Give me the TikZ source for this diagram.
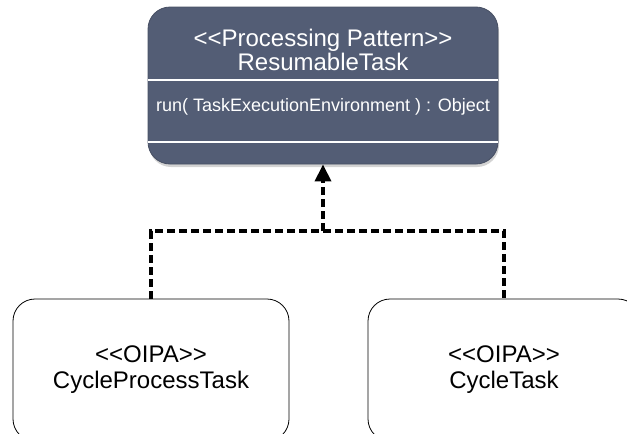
\documentclass[tikz,border=0pt]{standalone}
\usepackage{fontspec}
\newfontfamily\arial{Liberation Sans}
\usetikzlibrary{arrows.meta,shadows}
\definecolor{slate}{RGB}{83,93,117}
\begin{document}
\begin{tikzpicture}[x=1pt,y=-1pt,
  patternbox/.style={draw=slate!85!black, fill=slate, rounded corners=22pt,
    inner sep=0pt, line width=0.8pt,
    drop shadow={shadow xshift=1pt, shadow yshift=-3pt, opacity=0.35}},
  oipabox/.style={draw=black, fill=white, rounded corners=22pt, inner sep=0pt,
    line width=0.8pt, align=center, font=\arial\fontsize{24}{26}\selectfont},
  divider/.style={white, line width=1.2pt},
  dep/.style={black, line width=3.4pt, dash pattern=on 8pt off 4pt},
  titletext/.style={white, align=center, font=\arial\fontsize{24}{24.5}\selectfont},
  optext/.style={white, font=\arial\fontsize{18}{20}\selectfont}]
\useasboundingbox (0,0) rectangle (627,434);
\clip (0,0) rectangle (627,434);

% interface-like pattern class
\node[patternbox, minimum width=350pt, minimum height=157pt] (res) at (323,85.5) {};
\coordinate (d1) at (0,80);
\coordinate (d2) at (0,142);
\draw[divider] (res.west |- d1) -- (res.east |- d1);
\draw[divider] (res.west |- d2) -- (res.east |- d2);
\node[titletext] (title) at (323,50) {<<Processing Pattern>>\\ResumableTask};
\node[optext] (op) at (323,107) {run( TaskExecutionEnvironment ) : Object};

% implementing classes
\node[oipabox, minimum width=276pt, minimum height=142pt] (cpt) at (151,370)
  {<<OIPA>>\\CycleProcessTask};
\node[oipabox, minimum width=272pt, minimum height=142pt] (ct) at (504,370)
  {<<OIPA>>\\CycleTask};

% realization connectors
\coordinate (jn) at (res.south |- 0,231);
\draw[dep] (cpt.north) |- (jn) -| (ct.north);
\draw[dep, -{Triangle[length=17pt,width=16pt]}] (jn) -- (res.south);
\end{tikzpicture}
\end{document}
